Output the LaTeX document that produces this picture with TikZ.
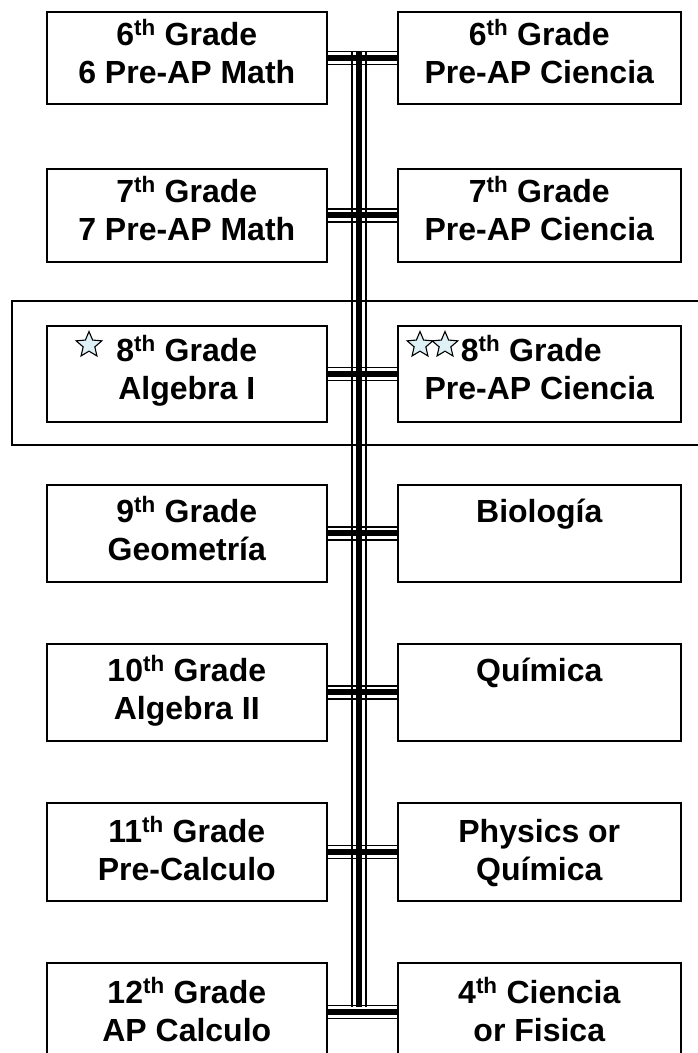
\documentclass[tikz,border=0pt]{standalone}
\usepackage{fontspec}
\setmainfont{Liberation Sans}
\usetikzlibrary{shapes.geometric}
\definecolor{starblue}{HTML}{DDF1F7}
\begin{document}
\begin{tikzpicture}[x=1pt,y=-1pt,
  gbox/.style={draw=black,line width=1.6pt,fill=white,inner sep=0pt,anchor=north west},
  gtext/.style={anchor=base,font=\bfseries\fontsize{32}{38}\selectfont,inner sep=0pt},
  thinl/.style={line width=1.5pt},
  thickl/.style={line width=6pt},
  starn/.style={star,star points=5,star point ratio=2.2,draw=black,line width=1.1pt,fill=starblue,minimum size=27pt,inner sep=0pt}]
\useasboundingbox (0,0) rectangle (698,1053);
\clip (0,0) rectangle (698,1053);
% outer frame around row 3
\draw[line width=1.6pt] (12,301) rectangle (720,445);
% boxes
\foreach \i/\t/\h in {1/11/92,2/168/93,3/325/96,4/484/97,5/643/97,6/802/98,7/962/98}{
  \node[gbox,minimum width=280pt,minimum height=\h pt] (L\i) at (46,\t) {};
  \node[gbox,minimum width=283pt,minimum height=\h pt] (R\i) at (397,\t) {};
}
% vertical triple line
\coordinate (vt) at (359,52);
\coordinate (vb) at (359,1007);
\draw[thickl] (vt) -- (vb);
\draw[thinl] ([xshift=-7pt]vt) -- ([xshift=-7pt]vb);
\draw[thinl] ([xshift=7pt]vt) -- ([xshift=7pt]vb);
% horizontal triple connectors
\foreach \i in {1,...,7}{
  \draw[thickl] (L\i.east) -- (R\i.west);
  \draw[thinl] ([yshift=-6.5pt]L\i.east) -- ([yshift=-6.5pt]R\i.west);
  \draw[thinl] ([yshift=6.5pt]L\i.east) -- ([yshift=6.5pt]R\i.west);
}
% texts (first line baseline, second line baseline)
\newcommand\twolines[5]{%
  \node[gtext] (#1a) at ([yshift=-#3pt]#2.north) {#4};
  \node[gtext] (#1b) at ([yshift=-#3pt-38pt]#2.north) {#5};}
\twolines{tL1}{L1}{34}{6\textsuperscript{th} Grade}{6 Pre-AP Math}
\twolines{tR1}{R1}{34}{6\textsuperscript{th} Grade}{Pre-AP Ciencia}
\twolines{tL2}{L2}{34}{7\textsuperscript{th} Grade}{7 Pre-AP Math}
\twolines{tR2}{R2}{34}{7\textsuperscript{th} Grade}{Pre-AP Ciencia}
\twolines{tL3}{L3}{36}{8\textsuperscript{th} Grade}{Algebra I}
\node[gtext] (tR3a) at ([yshift=-36pt,xshift=-8pt]R3.north) {8\textsuperscript{th} Grade};
\node[gtext] (tR3b) at ([yshift=-74pt]R3.north) {Pre-AP Ciencia};
\twolines{tL4}{L4}{38}{9\textsuperscript{th} Grade}{Geometría}
\node[gtext] (tR4) at ([yshift=-38pt]R4.north) {Biología};
\twolines{tL5}{L5}{38}{10\textsuperscript{th} Grade}{Algebra II}
\node[gtext] (tR5) at ([yshift=-38pt]R5.north) {Química};
\twolines{tL6}{L6}{40}{11\textsuperscript{th} Grade}{Pre-Calculo}
\twolines{tR6}{R6}{40}{Physics or}{Química}
\twolines{tL7}{L7}{41}{12\textsuperscript{th} Grade}{AP Calculo}
\twolines{tR7}{R7}{41}{4\textsuperscript{th} Ciencia}{or Fisica}
% stars
\node[starn] (s1) at (89,345) {};
\node[starn] (s2) at (420,345) {};
\node[starn] (s3) at (445,345) {};
\end{tikzpicture}
\end{document}
